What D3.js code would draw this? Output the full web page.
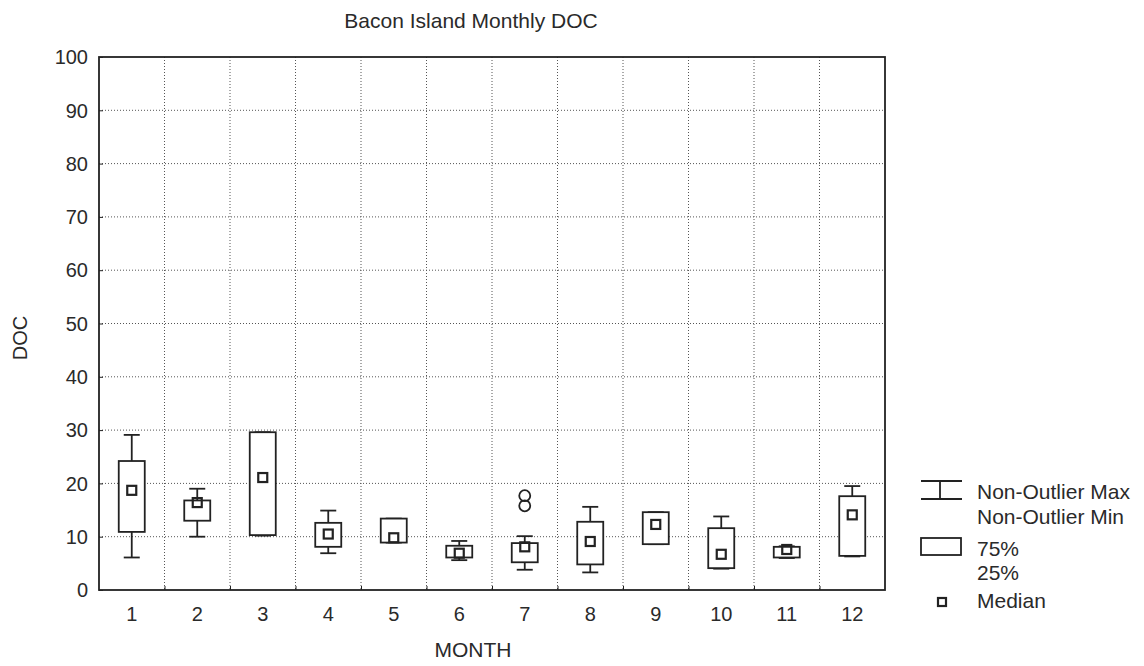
<!DOCTYPE html>
<html>
<head>
<meta charset="utf-8">
<script src="https://cdn.jsdelivr.net/npm/d3@7"></script>
<style>
  body { margin: 0; background: #fff; }
  text { font-family: "Liberation Sans", Arial, sans-serif; fill: #2a2a2a; }
</style>
</head>
<body>
<svg width="1144" height="666"></svg>
<script>
// monthly DOC summary
const months     = [1, 2, 3, 4, 5, 6, 7, 8, 9, 10, 11, 12];
const whiskerMax = [29.1, 19.0, 29.6, 14.9, 13.4, 9.2, 10.1, 15.6, 14.6, 13.8, 8.2, 19.5];
const q75        = [24.2, 16.8, 29.6, 12.6, 13.4, 8.3, 8.8, 12.8, 14.6, 11.6, 8.1, 17.6];
const median     = [18.7, 16.4, 21.1, 10.5, 9.8, 6.9, 8.1, 9.1, 12.3, 6.7, 7.6, 14.1];
const q25        = [10.9, 13.0, 10.3, 8.1, 8.9, 6.1, 5.2, 4.8, 8.6, 4.1, 6.1, 6.4];
const whiskerMin = [6.1, 10.0, 10.2, 6.9, 8.9, 5.6, 3.8, 3.3, 8.6, 4.0, 6.0, 6.3];
const outliers   = [{month: 7, value: 17.7}, {month: 7, value: 15.8}];
const yTicks     = [0, 10, 20, 30, 40, 50, 60, 70, 80, 90, 100];

const svg = d3.select('svg');
const plotL = 99, plotR = 885, plotT = 57, plotB = 590;
const ink = '#222';

const x = d3.scaleBand().domain(months).range([plotL, plotR]).padding(0);
const y = d3.scaleLinear().domain([0, 100]).range([plotB, plotT]);

const boxW = 26, capW = 16, medW = 9;

// gridlines (dotted)
const grid = svg.append('g').attr('stroke', '#555').attr('stroke-width', 1)
  .attr('stroke-dasharray', '1,2');
grid.selectAll('line.h')
  .data(yTicks.slice(1, -1))
  .enter().append('line')
  .attr('x1', plotL).attr('x2', plotR)
  .attr('y1', d => y(d)).attr('y2', d => y(d));
grid.selectAll('line.v')
  .data(months.slice(1))
  .enter().append('line')
  .attr('x1', d => x(d)).attr('x2', d => x(d))
  .attr('y1', plotT).attr('y2', plotB);

// frame
svg.append('rect')
  .attr('x', plotL).attr('y', plotT)
  .attr('width', plotR - plotL).attr('height', plotB - plotT)
  .attr('fill', 'none').attr('stroke', ink).attr('stroke-width', 1.8);

// y axis
const yAxis = svg.append('g')
  .attr('transform', `translate(${plotL},0)`)
  .call(d3.axisRight(y).tickValues(yTicks).tickSize(4).tickFormat(''));
yAxis.select('.domain').remove();
yAxis.selectAll('line').attr('stroke', ink);
svg.append('g').selectAll('text')
  .data(yTicks)
  .enter().append('text')
  .attr('x', plotL - 11)
  .attr('y', d => y(d))
  .attr('dy', '0.36em')
  .attr('text-anchor', 'end')
  .attr('font-size', 20)
  .text(d => d);

// x axis
const xAxis = svg.append('g')
  .attr('transform', `translate(0,${plotB})`)
  .call(d3.axisTop(d3.scaleLinear().domain([0, 12]).range([plotL, plotR]))
    .tickValues(d3.range(1, 12)).tickSize(4).tickFormat(''));
xAxis.select('.domain').remove();
xAxis.selectAll('line').attr('stroke', ink);
svg.append('g').selectAll('text')
  .data(months)
  .enter().append('text')
  .attr('x', d => x(d) + x.bandwidth() / 2)
  .attr('y', 621)
  .attr('text-anchor', 'middle')
  .attr('font-size', 20)
  .text(d => d);

// boxes
const cx = m => x(m) + x.bandwidth() / 2;
const boxes = svg.append('g').attr('stroke', ink).attr('stroke-width', 1.8).attr('fill', 'none');
months.forEach((m, i) => {
  const g = boxes.append('g');
  g.append('line').attr('x1', cx(m)).attr('x2', cx(m))
    .attr('y1', y(whiskerMax[i])).attr('y2', y(q75[i]));
  g.append('line').attr('x1', cx(m)).attr('x2', cx(m))
    .attr('y1', y(q25[i])).attr('y2', y(whiskerMin[i]));
  g.append('line').attr('x1', cx(m) - capW / 2).attr('x2', cx(m) + capW / 2)
    .attr('y1', y(whiskerMax[i])).attr('y2', y(whiskerMax[i]));
  g.append('line').attr('x1', cx(m) - capW / 2).attr('x2', cx(m) + capW / 2)
    .attr('y1', y(whiskerMin[i])).attr('y2', y(whiskerMin[i]));
  g.append('rect')
    .attr('x', cx(m) - boxW / 2).attr('width', boxW)
    .attr('y', y(q75[i])).attr('height', y(q25[i]) - y(q75[i]))
    .attr('fill', '#fff');
  g.append('rect')
    .attr('x', cx(m) - medW / 2).attr('width', medW)
    .attr('y', y(median[i]) - medW / 2).attr('height', medW)
    .attr('stroke-width', 2.2);
});

// outliers
boxes.selectAll('circle')
  .data(outliers)
  .enter().append('circle')
  .attr('cx', d => cx(d.month))
  .attr('cy', d => y(d.value))
  .attr('r', 5.5);

// titles
svg.append('text').attr('x', 471).attr('y', 28).attr('text-anchor', 'middle')
  .attr('font-size', 21).text('Bacon Island Monthly DOC');
svg.append('text').attr('x', 473).attr('y', 657).attr('text-anchor', 'middle')
  .attr('font-size', 21).text('MONTH');
svg.append('text').attr('transform', 'translate(27,338) rotate(-90)')
  .attr('text-anchor', 'middle').attr('font-size', 20).text('DOC');

// legend
const lg = svg.append('g');
const ls = lg.append('g').attr('stroke', ink).attr('stroke-width', 1.8).attr('fill', 'none');
ls.append('line').attr('x1', 921).attr('x2', 962).attr('y1', 481).attr('y2', 481);
ls.append('line').attr('x1', 921).attr('x2', 962).attr('y1', 499).attr('y2', 499);
ls.append('line').attr('x1', 940).attr('x2', 940).attr('y1', 481).attr('y2', 499);
ls.append('rect').attr('x', 921).attr('y', 538).attr('width', 40).attr('height', 17);
ls.append('rect').attr('x', 938).attr('y', 598).attr('width', 8).attr('height', 8).attr('stroke-width', 2.2);
const legendText = [
  ['Non-Outlier Max', 499], ['Non-Outlier Min', 524],
  ['75%', 556], ['25%', 580], ['Median', 608]
];
lg.selectAll('text')
  .data(legendText)
  .enter().append('text')
  .attr('x', 977).attr('y', d => d[1])
  .attr('font-size', 21)
  .text(d => d[0]);
</script>
</body>
</html>
